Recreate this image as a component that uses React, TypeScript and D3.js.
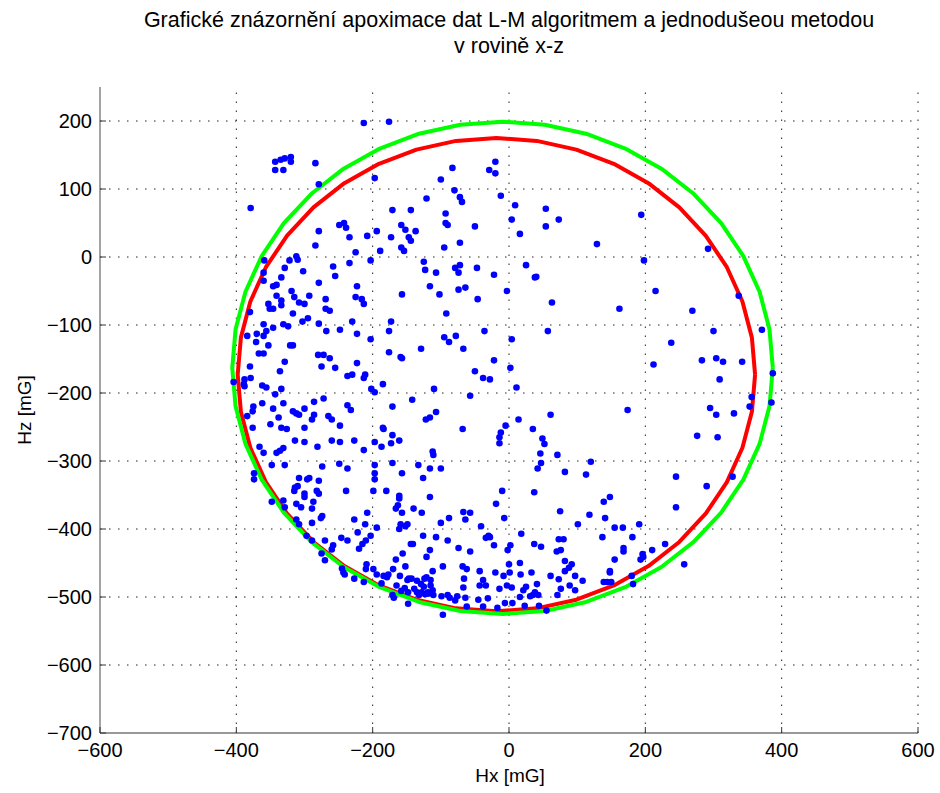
import React from 'react';
import * as d3 from 'd3';

const titleLines = [
  'Grafické znázornění apoximace dat L-M algoritmem a jednodušeou metodou',
  'v rovině x-z',
];
const xLabel = 'Hx [mG]';
const yLabel = 'Hz [mG]';
const xTicks = [-600, -400, -200, 0, 200, 400, 600];
const yTicks = [-700, -600, -500, -400, -300, -200, -100, 0, 100, 200];

// fitted ellipses: [centre x, centre z, radius x, radius z]
const redEllipse = [-18.5, -173, 379.5, 348];
const greenEllipse = [-9.5, -163, 396.5, 362];
const ellipseSteps = 40;

// measured points [Hx, Hz]
const points: [number, number][] = [
  [-213,197],[-176,199],[-343,140],[-335,143],[-329,145],[-320,147],[-320,140],[-343,128],[-331,128],[-284,138],[-279,107],[-379,72],[-197,116],[-83,131],[-100,114],[-29,128],[-20,140],[-20,123],[-12,90],[-80,98],[-72,88],[-69,81],[-121,86],[-171,69],[-144,69],[-93,64],[-93,50],[-90,47],[-50,45],[9,76],[4,55],[16,34],[-249,47],[-242,50],[-239,43],[-234,29],[-279,38],[-284,17],[-208,31],[-194,38],[-173,29],[-158,47],[-152,40],[-137,38],[-147,29],[-144,24],[-158,14],[-154,9],[-189,9],[-203,-5],[-225,7],[-234,-9],[-258,-14],[-255,-28],[-302,-21],[-310,-4],[-312,1],[-322,-5],[-329,-16],[-334,-30],[-359,-5],[-360,-23],[-95,14],[-72,21],[-125,-7],[-123,-19],[-107,-23],[-79,-16],[-72,-12],[-74,-23],[-47,-16],[-22,-26],
  [54,71],[73,55],[54,45],[129,19],[194,62],[198,-5],[292,12],[25,-12],[40,-29],[38,-30],
  [-360,-35],[-346,-43],[-341,-41],[-279,-38],[-223,-43],[-116,-43],[-74,-48],[-64,-45],[-3,-50],
  [-157,-55],[-102,-55],[-46,-62],
  [-341,-57],[-319,-50],[-293,-57],[-315,-59],[-334,-64],[-334,-71],[-353,-69],[-351,-76],[-346,-76],[-308,-67],[-300,-69],[-269,-62],[-225,-59],[-216,-62],[-213,-69],[-269,-76],[-263,-79],[-317,-83],[-380,-81],[-92,-83],
  [-303,-95],[-295,-90],[-279,-98],[-230,-95],[-173,-95],[-360,-99],[-331,-99],[-324,-102],[-346,-104],[-356,-109],[-370,-113],[-384,-116],[-360,-116],[-371,-125],[-353,-130],[-321,-130],[-317,-130],[-268,-109],[-248,-107],[-223,-113],[-203,-121],[-176,-109],[-95,-118],[-88,-125],[-78,-116],[-36,-109],[4,-121],[-129,-135],[-67,-135],[-176,-140],[-159,-147],[-157,-149],[-367,-142],[-360,-142],[-329,-154],[-280,-144],[-272,-144],[-263,-149],[-223,-156],[-275,-161],[-255,-163],[-336,-168],[-380,-161],[-379,-178],[-388,-180],[-404,-184],[-389,-187],[-388,-190],[-237,-175],[-230,-173],[-213,-178],[-211,-173],[-185,-187],[-202,-194],[-197,-199],[-362,-189],[-356,-192],[-334,-194],[-343,-202],[-110,-194],[-22,-152],[-50,-168],[-38,-178],[-28,-180],[2,-163],[11,-192],[-57,-204],
  [-272,-208],[-286,-213],[-142,-210],[-237,-218],[-232,-225],[-362,-215],[-375,-220],[-376,-227],[-384,-234],[-346,-223],[-331,-215],[-317,-227],[-312,-230],[-308,-232],[-300,-223],[-286,-232],[-289,-239],[-265,-234],[-260,-239],[-338,-236],[-350,-246],[-334,-251],[-326,-253],[-300,-251],[-248,-248],[-171,-220],[-107,-228],[-122,-239],[-116,-236],[-185,-251],[-184,-253],[-68,-253],[14,-239],[-5,-248],[-12,-258],[-14,-265],[-14,-274],
  [-171,-262],[-197,-272],[-187,-279],[-173,-274],[-161,-270],[-227,-270],[-213,-284],[-260,-270],[-248,-272],[-281,-279],[-300,-272],[-314,-270],[-376,-251],[-366,-279],[-360,-288],[-341,-288],[-336,-285],[-331,-281],[-112,-286],[-111,-291],
  [63,-67],[162,-76],[215,-50],[269,-79],[337,-57],[57,-109],[300,-109],[371,-107],[238,-126],[212,-158],[283,-152],[304,-149],[314,-154],[342,-154],[309,-180],[387,-171],[35,-253],[49,-267],[52,-275],[46,-289],[71,-291],[61,-232],[174,-225],[295,-222],[304,-232],[330,-230],[356,-206],[353,-220],[385,-214],[276,-263],[306,-265],
  [-374,-318],[-374,-327],[-348,-306],[-329,-306],[-274,-308],[-249,-304],[-237,-311],[-197,-306],[-171,-303],[-197,-318],[-197,-327],[-157,-318],[-133,-306],[-116,-311],[-100,-311],[-126,-325],[-10,-344],
  [-308,-325],[-293,-325],[-296,-327],[-279,-329],[-314,-339],[-310,-337],[-315,-344],[-282,-344],[-279,-348],[-239,-344],[-199,-344],[-180,-344],[-161,-351],[-161,-355],[-116,-353],[-166,-370],[-163,-365],[-157,-376],[-140,-370],[-128,-376],[-348,-360],[-331,-358],[-329,-368],[-312,-363],[-305,-368],[-300,-348],[-300,-353],[-287,-360],[-289,-370],[-274,-381],[-276,-384],[-289,-391],[-312,-386],[-308,-393],[-227,-386],[-211,-393],[-208,-376],[-194,-398],[-159,-393],[-149,-393],[-152,-396],[-161,-400],[-100,-391],[-88,-384],[-67,-375],[-57,-376],[-64,-386],[-19,-363],[-7,-384],[-41,-396],
  [-297,-410],[-289,-417],[-270,-417],[-258,-424],[-260,-430],[-275,-436],[-270,-446],[-246,-413],[-237,-417],[-222,-405],[-210,-417],[-203,-410],[-215,-422],[-220,-429],[-141,-422],[-144,-422],[-126,-410],[-107,-412],[-90,-417],[-74,-428],[-57,-433],[-116,-431],[-121,-441],[-156,-436],[-166,-445],[-152,-455],[-170,-459],[-209,-452],[-210,-459],[-199,-459],[-194,-467],[-184,-469],[-177,-467],[-179,-471],[-187,-480],[-213,-478],[-227,-473],[-245,-458],[-243,-464],[-241,-467],[-30,-410],[-28,-412],[-34,-413],[-22,-424],[-2,-431],[2,-424],[-68,-455],[-62,-459],[-43,-462],[-20,-464],[-8,-469],[0,-452],[1,-464],[-43,-483],[-38,-475],[-34,-483],[-97,-455],[-112,-462],[-124,-473],[-121,-471],[-115,-475],[-149,-475],[-147,-473],[-143,-473],[-160,-469],[-135,-476],[-129,-481],[-125,-485],[-119,-493],[-115,-483],[-112,-490],[-165,-483],[-158,-491],[-153,-487],[-148,-493],[-139,-488],[-135,-493],[-132,-497],[-128,-493],[-123,-496],[-118,-495],[-111,-497],[-99,-499],[-90,-497],[-87,-501],[-79,-505],[-76,-499],[-64,-501],[-62,-514],[-45,-504],[-38,-514],[-31,-502],[-17,-516],[-6,-509],[5,-509],[4,-486],[-3,-483],[-14,-488],[-169,-501],[-171,-497],[-148,-510],[-97,-526],[-67,-486],[-66,-473],
  [47,-303],[42,-311],[82,-316],[113,-320],[120,-301],[37,-346],[139,-360],[148,-353],[75,-374],[118,-379],[101,-393],[141,-384],[155,-398],[167,-398],[191,-393],[137,-412],[181,-412],[73,-415],[80,-415],[37,-422],[47,-426],[70,-433],[76,-431],[168,-428],[168,-433],[155,-445],[82,-447],[92,-452],[88,-457],[82,-462],[33,-464],[17,-467],[16,-450],[18,-407],[61,-469],[73,-474],[97,-469],[108,-476],[148,-462],[148,-464],[139,-478],[144,-478],[150,-478],[180,-469],[182,-481],[193,-445],[196,-437],[197,-441],[210,-431],[229,-422],[245,-323],[245,-368],[290,-337],[328,-323],[257,-452],[76,-488],[89,-483],[97,-490],[71,-497],[41,-481],[25,-485],[21,-490],[38,-493],[35,-497],[43,-497],[31,-499],[16,-500],[23,-513],[44,-513],[55,-520],
];

const W = 940;
const H = 793;
const left = 100, right = 918, top = 87, bottom = 733;
const font = '"Liberation Sans", Arial, Helvetica, sans-serif';

const fmt = (v: number) => (v < 0 ? '\u2212' + Math.abs(v) : String(v));

export default function App() {
  const x = d3.scaleLinear().domain([-600, 600]).range([left, right]);
  const y = d3.scaleLinear().domain([-700, 250]).range([bottom, top]);

  const ellipsePath = (e: number[]) => {
    const [cx, cy, rx, ry] = e;
    const pts = d3.range(ellipseSteps + 1).map((i) => {
      const t = (i / ellipseSteps) * 2 * Math.PI;
      return [cx + rx * Math.cos(t), cy + ry * Math.sin(t)] as [number, number];
    });
    return d3.line<[number, number]>().x((d) => x(d[0])).y((d) => y(d[1]))(pts) || '';
  };

  return (
    <svg width={W} height={H} style={{ position: 'absolute', left: 0, top: 0, background: '#fff' }}>
      <rect x={0} y={0} width={W} height={H} fill="#fff" />
      {/* title */}
      {titleLines.map((t, i) => (
        <text key={i} x={509} y={27 + i * 26} textAnchor="middle" fontFamily={font} fontSize={21.5} fill="#000">
          {t}
        </text>
      ))}
      {/* grid */}
      <g stroke="#222" strokeWidth={1} strokeDasharray="1.5,7.5">
        {xTicks.filter((v) => v !== -600).map((v) => (
          <line key={'gx' + v} x1={x(v)} x2={x(v)} y1={bottom} y2={top} />
        ))}
        {yTicks.filter((v) => v !== -700).map((v) => (
          <line key={'gy' + v} x1={left} x2={right} y1={y(v)} y2={y(v)} />
        ))}
      </g>
      {/* fitted curves */}
      <path d={ellipsePath(redEllipse)} fill="none" stroke="#ff0000" strokeWidth={4} strokeLinejoin="round" />
      <path d={ellipsePath(greenEllipse)} fill="none" stroke="#00ff00" strokeWidth={4} strokeLinejoin="round" />
      {/* points */}
      <g fill="#0000ff">
        {points.map((p, i) => (
          <circle key={i} cx={x(p[0])} cy={y(p[1])} r={3.3} />
        ))}
      </g>
      {/* axes */}
      <line x1={left} x2={left} y1={top} y2={bottom} stroke="#666" strokeWidth={1.2} />
      <line x1={left} x2={right} y1={bottom} y2={bottom} stroke="#333" strokeWidth={1.2} />
      {xTicks.map((v) => (
        <g key={'tx' + v}>
          <line x1={x(v)} x2={x(v)} y1={bottom} y2={bottom - 6} stroke="#333" />
          <text x={x(v)} y={757} textAnchor="middle" fontFamily={font} fontSize={20} fill="#000">
            {fmt(v)}
          </text>
        </g>
      ))}
      {yTicks.map((v) => (
        <g key={'ty' + v}>
          <line x1={left} x2={left + 6} y1={y(v)} y2={y(v)} stroke="#333" />
          <text x={92} y={y(v)} dy="0.35em" textAnchor="end" fontFamily={font} fontSize={20} fill="#000">
            {fmt(v)}
          </text>
        </g>
      ))}
      <text x={510} y={782} textAnchor="middle" fontFamily={font} fontSize={19} fill="#000">
        {xLabel}
      </text>
      <text transform={`translate(31,410) rotate(-90)`} textAnchor="middle" fontFamily={font} fontSize={19} fill="#000">
        {yLabel}
      </text>
    </svg>
  );
}
